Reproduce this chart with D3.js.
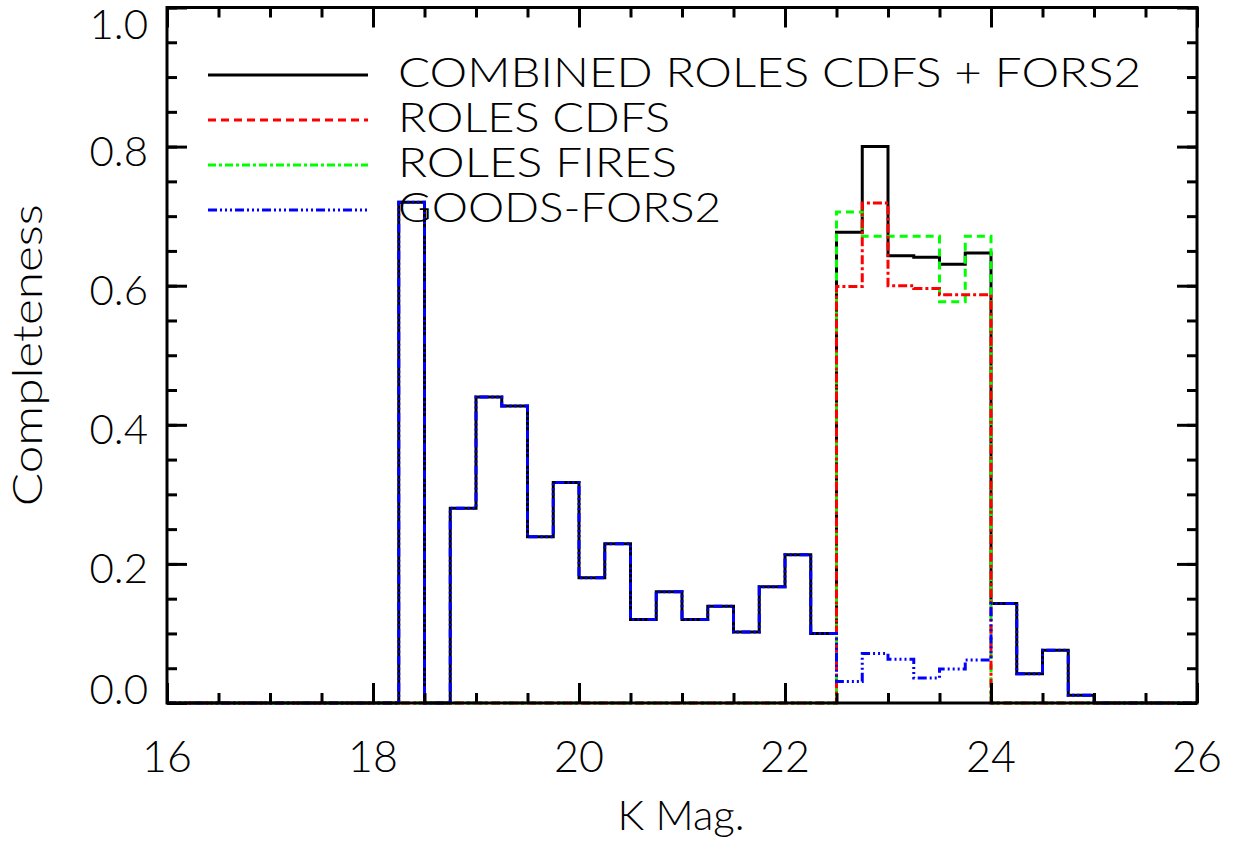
<!DOCTYPE html>
<html>
<head>
<meta charset="utf-8">
<script src="https://cdn.jsdelivr.net/npm/d3@7"></script>
<style>
  body { margin: 0; background: #fff; }
  svg { display: block; }
  text { font-family: Lato, "Liberation Sans", sans-serif; font-weight: 300; fill: #000; }
</style>
</head>
<body>
<svg id="chart" width="1235" height="845"></svg>
<script>
// K-band magnitude bins, 0.25 mag wide, left edges from 16.00 to 25.75
const binEdges = d3.range(16, 26, 0.25);
const binEnd = 26;

// Completeness per bin
const combined = [
  0, 0, 0, 0, 0, 0, 0, 0,
  0, 0.72, 0, 0.28,
  0.44, 0.427, 0.239, 0.317,
  0.180, 0.229, 0.120, 0.160,
  0.120, 0.139, 0.102, 0.167,
  0.213, 0.100, 0.677, 0.800,
  0.643, 0.641, 0.631, 0.647,
  0.143, 0.042, 0.076, 0.011,
  0, 0, 0, 0
];
const rolesCdfs = [
  0, 0, 0, 0, 0, 0, 0, 0,
  0, 0, 0, 0,
  0, 0, 0, 0,
  0, 0, 0, 0,
  0, 0, 0, 0,
  0, 0, 0.599, 0.719,
  0.600, 0.596, 0.587, 0.587,
  0, 0, 0, 0,
  0, 0, 0, 0
];
const rolesFires = [
  0, 0, 0, 0, 0, 0, 0, 0,
  0, 0, 0, 0,
  0, 0, 0, 0,
  0, 0, 0, 0,
  0, 0, 0, 0,
  0, 0, 0.706, 0.671,
  0.671, 0.671, 0.577, 0.671,
  0, 0, 0, 0,
  0, 0, 0, 0
];
const goodsFors2 = [
  0, 0, 0, 0, 0, 0, 0, 0,
  0, 0.72, 0, 0.28,
  0.44, 0.427, 0.239, 0.317,
  0.180, 0.229, 0.120, 0.160,
  0.120, 0.139, 0.102, 0.167,
  0.213, 0.100, 0.031, 0.071,
  0.063, 0.036, 0.049, 0.062,
  0.143, 0.042, 0.076, 0.011,
  0, 0, 0, 0
];

const xTickValues = [16, 18, 20, 22, 24, 26];
const xTickLabels = ["16", "18", "20", "22", "24", "26"];
const yTickValues = [0, 0.2, 0.4, 0.6, 0.8, 1.0];
const yTickLabels = ["0.0", "0.2", "0.4", "0.6", "0.8", "1.0"];

const legendNames = ["COMBINED ROLES CDFS + FORS2", "ROLES CDFS", "ROLES FIRES", "GOODS-FORS2"];

// Plot geometry
const plotLeft = 167, plotRight = 1197, plotTop = 7.5, plotBottom = 703;
const svg = d3.select("#chart");
svg.append("rect").attr("width", 1235).attr("height", 845).attr("fill", "#fff");

const x = d3.scaleLinear().domain([16, 26]).range([plotLeft, plotRight]);
const y = d3.scaleLinear().domain([0, 1]).range([plotBottom, plotTop]);

// Step histograms
const step = d3.line()
  .x(d => x(d[0]))
  .y(d => y(d[1]))
  .curve(d3.curveStepAfter);

function histPoints(vals) {
  const pts = binEdges.map((e, i) => [e, vals[i]]);
  pts.push([binEnd, vals[vals.length - 1]]);
  return pts;
}

const series = [
  { vals: combined,   color: "#000000", dash: null,               legendDash: null },
  { vals: rolesFires, color: "#00ff00", dash: "8,5",              legendDash: "8,3,3,3" },
  { vals: rolesCdfs,  color: "#ff0000", dash: "9,3,3,3",          legendDash: "8,5" },
  { vals: goodsFors2, color: "#0000ff", dash: "9,3,2,3,2,3,2,3",  legendDash: "9,3,2,3,2,3,2,3" }
];

const plot = svg.append("g");
series.forEach(s => {
  plot.append("path")
    .attr("d", step(histPoints(s.vals)))
    .attr("fill", "none")
    .attr("stroke", s.color)
    .attr("stroke-width", 3)
    .attr("stroke-dasharray", s.dash);
});

// Frame
svg.append("rect")
  .attr("x", plotLeft).attr("y", plotTop)
  .attr("width", plotRight - plotLeft).attr("height", plotBottom - plotTop)
  .attr("fill", "none").attr("stroke", "#000").attr("stroke-width", 3);

// Ticks on all four sides, pointing inward
const xMinor = d3.range(16, 26.001, 0.5);
const yMinor = d3.range(0, 1.0001, 0.05);
function addAxis(axis, transform) {
  const g = svg.append("g").attr("transform", transform).call(axis);
  g.select(".domain").remove();
  g.selectAll(".tick line").attr("stroke", "#000").attr("stroke-width", 3);
  g.selectAll(".tick text").remove();
}
addAxis(d3.axisBottom(x).tickValues(xMinor).tickSize(-10), `translate(0,${plotBottom})`);
addAxis(d3.axisBottom(x).tickValues(xTickValues).tickSize(-20), `translate(0,${plotBottom})`);
addAxis(d3.axisTop(x).tickValues(xMinor).tickSize(-10), `translate(0,${plotTop})`);
addAxis(d3.axisTop(x).tickValues(xTickValues).tickSize(-20), `translate(0,${plotTop})`);
addAxis(d3.axisLeft(y).tickValues(yMinor).tickSize(-10), `translate(${plotLeft},0)`);
addAxis(d3.axisLeft(y).tickValues(yTickValues).tickSize(-20), `translate(${plotLeft},0)`);
addAxis(d3.axisRight(y).tickValues(yMinor).tickSize(-10), `translate(${plotRight},0)`);
addAxis(d3.axisRight(y).tickValues(yTickValues).tickSize(-20), `translate(${plotRight},0)`);

// Tick labels
svg.append("g").selectAll("text")
  .data(xTickValues)
  .join("text")
  .attr("x", d => x(d))
  .attr("y", 772)
  .attr("text-anchor", "middle")
  .attr("font-size", 43)
  .text((d, i) => xTickLabels[i]);

svg.append("g").selectAll("text")
  .data(yTickValues)
  .join("text")
  .attr("x", 148)
  .attr("y", d => Math.min(Math.max(y(d) + 4, 24), 689) + 15)
  .attr("text-anchor", "end")
  .attr("font-size", 42)
  .text((d, i) => yTickLabels[i]);

// Axis titles
svg.append("text")
  .attr("x", (plotLeft + plotRight) / 2 - 1)
  .attr("y", 830)
  .attr("text-anchor", "middle")
  .attr("font-size", 42)
  .text("K Mag.");

svg.append("text")
  .attr("transform", `translate(42,${(plotTop + plotBottom) / 2}) rotate(-90)`)
  .attr("text-anchor", "middle")
  .attr("font-size", 42)
  .attr("textLength", 302)
  .attr("lengthAdjust", "spacingAndGlyphs")
  .text("Completeness");

// Legend
const legendOrder = [0, 2, 1, 3];
const legendWidths = [743, 272, 279, 323];
const legend = svg.append("g");
legendOrder.forEach((si, i) => {
  const s = series[si];
  const ly = 75 + i * 45;
  legend.append("line")
    .attr("x1", 208).attr("x2", 368)
    .attr("y1", ly).attr("y2", ly)
    .attr("stroke", s.color)
    .attr("stroke-width", 3)
    .attr("stroke-dasharray", s.legendDash);
  legend.append("text")
    .attr("x", 398)
    .attr("y", ly + 12)
    .attr("font-size", 42)
    .attr("textLength", legendWidths[i])
    .attr("lengthAdjust", "spacingAndGlyphs")
    .text(legendNames[i]);
});
</script>
</body>
</html>
